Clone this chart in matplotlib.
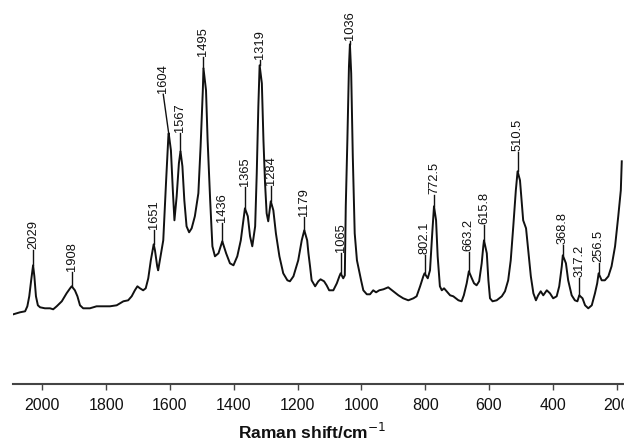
import matplotlib
matplotlib.use("Agg")
import matplotlib.pyplot as plt

plt.rcParams['font.family'] = ['Liberation Sans', 'DejaVu Sans']

# Spectrum (Raman shift in cm-1, intensity in arbitrary units)
wavenumber = [2091, 2070, 2054, 2047, 2041, 2035, 2029, 2025, 2020, 2014, 2007,
              1992, 1976, 1966, 1955, 1939, 1924, 1913, 1908, 1898, 1890, 1882,
              1872, 1851, 1830, 1809, 1788, 1767, 1746, 1731, 1720, 1710, 1702,
              1694, 1684, 1676, 1668, 1660, 1651, 1647, 1640, 1637,
              1621, 1612, 1605, 1604, 1597, 1591, 1586, 1579, 1572, 1567, 1561,
              1555, 1548, 1540, 1532, 1522, 1511, 1504, 1497, 1495, 1487, 1482,
              1474, 1467, 1459, 1448, 1436, 1424, 1412, 1401, 1389, 1378, 1370,
              1365, 1356, 1349, 1342, 1333, 1328, 1323, 1319, 1312, 1307, 1302,
              1297, 1292, 1286, 1284, 1276, 1268, 1257, 1245, 1232, 1224, 1213,
              1198, 1187, 1179, 1170, 1166, 1161, 1156, 1145, 1135, 1128, 1117,
              1109, 1101, 1088, 1077, 1069, 1065, 1057, 1052, 1049, 1044, 1039,
              1036, 1032, 1027, 1021, 1014, 1001, 994, 983, 973, 963, 954, 944,
              931, 916, 900, 884, 869, 853, 837, 827, 816, 806, 802.1, 792, 785,
              778, 772.5, 766, 761, 754, 748, 741, 733, 722, 712, 696, 686, 679,
              670, 663.2, 654, 647, 639, 631, 623, 618, 615.8, 607, 602, 597, 589,
              576, 560, 550, 540, 532, 524, 516, 510.5, 503, 498, 493, 484, 477,
              469, 461, 453, 446, 438, 430, 419, 409, 399, 388, 380, 372, 368.8,
              359, 352, 341, 331, 323, 317.2, 307, 299, 289, 278, 268, 261, 256.5,
              247, 237, 226, 216, 205, 195, 187, 184]
intensity = [70, 72, 73, 78, 88, 104, 119, 108, 88, 79, 77,
             76, 76, 75, 78, 83, 91, 96, 98, 94, 88, 79,
             76, 76, 78, 78, 78, 79, 83, 84, 88, 94, 98,
             96, 94, 96, 106, 124, 140, 134, 118, 114,
             144, 204, 248, 251, 234, 194, 164, 188, 221, 233, 218,
             184, 158, 152, 156, 168, 191, 238, 294, 316, 294, 244,
             184, 138, 128, 131, 143, 131, 121, 119, 128, 144, 164,
             176, 168, 148, 138, 158, 211, 278, 319, 301, 244, 201,
             171, 163, 178, 183, 174, 151, 128, 111, 104, 103, 108,
             124, 144, 154, 144, 131, 118, 104, 98, 103, 105, 103,
             99, 94, 94, 101, 108, 111, 106, 109, 178, 244, 318,
             340, 311, 228, 151, 124, 104, 94, 90, 90, 94, 92, 94,
             95, 97, 93, 89, 86, 84, 86, 88, 98, 108, 111, 106, 114,
             151, 178, 164, 128, 98, 94, 96, 93, 89, 88, 84, 83, 89,
             101, 113, 106, 101, 99, 103, 121, 138, 144, 131, 104, 86, 83,
             84, 88, 93, 104, 124, 158, 194, 213, 204, 184, 164, 156, 134,
             108, 91, 84, 89, 93, 89, 94, 91, 86, 88, 98, 118, 129,
             121, 104, 89, 84, 83, 89, 86, 79, 76, 79, 91, 101, 111,
             104, 104, 108, 118, 138, 168, 194, 223]

# Peak annotations
peak_labels = ['2029', '1908', '1651', '1604', '1567', '1495', '1436', '1365',
               '1319', '1284', '1179', '1065', '1036', '802.1', '772.5',
               '663.2', '615.8', '510.5', '368.8', '317.2', '256.5']
peak_pos = [2029, 1908, 1651, 1604, 1567, 1495, 1436, 1365, 1319, 1284, 1179,
            1065, 1036, 802.1, 772.5, 663.2, 615.8, 510.5, 368.8, 317.2, 256.5]
peak_int = [119, 98, 140, 251, 233, 316, 143, 176, 319, 183, 154, 111, 340,
            111, 178, 113, 144, 213, 129, 89, 111]
label_x = [2029, 1908, 1651, 1621, 1567, 1495, 1436, 1365, 1319, 1284, 1179,
           1065, 1036, 802.1, 772.5, 663.2, 615.8, 510.5, 368.8, 317.2, 256.5]
label_y = [134, 112, 154, 290, 251, 327, 161, 197, 324, 198, 167, 131, 343,
           129, 189, 132, 159, 232, 139, 106, 121]

xticks = [2000, 1800, 1600, 1400, 1200, 1000, 800, 600, 400, 200]

fig = plt.figure(figsize=(6.24, 4.45), dpi=100)
ax = fig.add_axes([13.3 / 624, 60.7 / 445, 1 - 13.3 / 624, 384.3 / 445])
ax.plot(wavenumber, intensity, color='#111111', lw=1.4, solid_joinstyle='round')

for lab, px, pi, lx, ly in zip(peak_labels, peak_pos, peak_int, label_x, label_y):
    ax.plot([px, lx], [pi, ly], color='#111111', lw=1.0)
    ax.text(lx, ly + 1, lab, rotation=90, ha='center', va='bottom',
            fontsize=9.3, color='#111111')

ax.set_xlim(2091, 177)
ax.set_ylim(0, 384.3)
for s in ['top', 'right', 'left']:
    ax.spines[s].set_visible(False)
ax.spines['bottom'].set_color('#444444')
ax.spines['bottom'].set_linewidth(1.5)
ax.set_yticks([])
ax.set_xticks(xticks)
ax.set_xticklabels([str(t) for t in xticks])
ax.tick_params(axis='x', direction='out', length=4, width=1, color='#444444',
               labelsize=11.5, pad=6, labelcolor='#111111')
fig.text(312 / 624, 6 / 445, 'Raman shift/cm$^{-1}$', fontsize=12.5,
         fontweight='bold', ha='center', va='baseline', color='#111111')

fig.savefig('out.png', dpi=100)
